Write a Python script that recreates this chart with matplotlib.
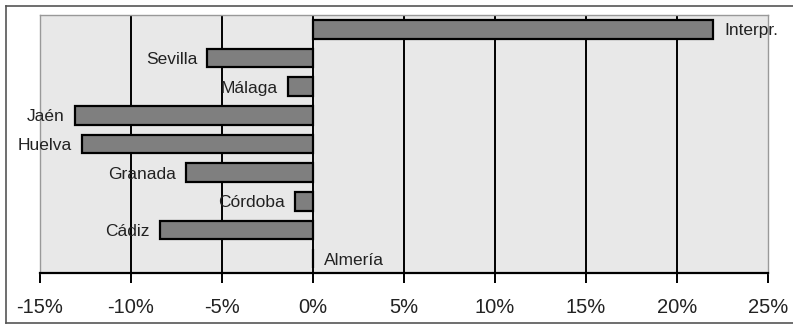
import numpy as np
import matplotlib
matplotlib.use("Agg")
import matplotlib.pyplot as plt
from matplotlib.lines import Line2D

plt.rcParams['font.family'] = ['Liberation Sans', 'DejaVu Sans']

# data (percent), top to bottom
provincias = ['Interpr.', 'Sevilla', 'Málaga', 'Jaén', 'Huelva',
              'Granada', 'Córdoba', 'Cádiz', 'Almería']
valores = [22.0, -5.8, -1.4, -13.1, -12.7, -7.0, -1.0, -8.4, 0.0]
xticks = [-15, -10, -5, 0, 5, 10, 15, 20, 25]

W, H = 793, 325
fig = plt.figure(figsize=(W / 100, H / 100), dpi=100)
ax = fig.add_axes([40 / W, 1 - 273 / H, 728 / W, 258 / H])
ax.set_facecolor('#e8e8e8')

y = np.arange(len(provincias))
ax.barh(y, valores, height=0.66, color='#7f7f7f', edgecolor='black',
        linewidth=1.6, zorder=3)

ax.set_xlim(-15, 25)
ax.set_ylim(len(provincias) - 0.5, -0.5)

# vertical grid lines
for t in xticks[1:-1]:
    ax.axvline(t, color='black', linewidth=1.4, zorder=2)

# labels next to bar ends
for yi, v, name in zip(y, valores, provincias):
    if v < 0:
        ax.text(v - 0.55, yi + 0.05, name, ha='right', va='center',
                fontsize=12.5, color='#222222', zorder=4)
    else:
        ax.text(v + 0.6, yi + 0.05, name, ha='left', va='center',
                fontsize=12.5, color='#222222', zorder=4)

ax.set_yticks([])
ax.set_xticks(xticks)
ax.set_xticklabels([f'{t}%' for t in xticks], fontsize=14.5, color='#222222')
ax.tick_params(axis='x', direction='out', length=7, width=1.4, pad=11,
               color='black')

for s in ['left', 'top', 'right']:
    ax.spines[s].set_color('#999999')
    ax.spines[s].set_linewidth(1.0)
ax.spines['bottom'].set_color('black')
ax.spines['bottom'].set_linewidth(1.6)
ax.spines['bottom'].set_zorder(5)

# outer frame
fx0, fy0, fy1 = 5.5 / W, 1 - 322.5 / H, 1 - 5.5 / H
for xs, ys in [([fx0, 1], [fy1, fy1]), ([fx0, 1], [fy0, fy0]),
               ([fx0, fx0], [fy0, fy1])]:
    fig.add_artist(Line2D(xs, ys, color='#555555', linewidth=1.2,
                          transform=fig.transFigure))

fig.savefig('out.png', dpi=100)
